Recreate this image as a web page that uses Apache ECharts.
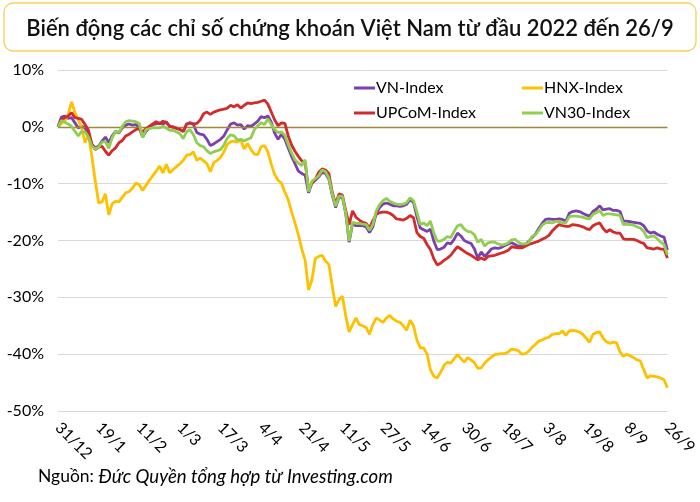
<!DOCTYPE html>
<html>
<head>
<meta charset="utf-8">
<script src="https://cdn.jsdelivr.net/npm/echarts@6/dist/echarts.min.js"></script>
<style>
html,body{margin:0;padding:0;background:#fff;}
#chart{width:700px;height:502px;}
</style>
</head>
<body>
<div id="chart"></div>
<script>
// % thay đổi so với 31/12/2021, theo từng phiên giao dịch
var vnIndex = [
	0, 1.7, 1.9, 1.5, 1.6, 0.7, -0.2, 0.1, -0.2, -1.3,
	-3.1, -3.7, -3.4, -2.5, -1.8, -2.8, -1.6, -0.8, -1.1, -0.2,
	0.3, 0.5, 0.3, 0.4, -0.2, -1.8, -0.8, -0.2, 0.4, 0.5,
	0.7, 0.5, 0.9, 0.1, -0.1, -0.2, -0.5, -0.8, 0.5, 0.7,
	0.4, -1.0, -1.3, -1.4, -2.2, -3.3, -3.0, -2.6, -2.2, -1.6,
	-0.5, 0.5, 0.7, 0.3, 0.4, -0.4, 0.2, 0.1, 0.5, 1.0,
	1.8, 1.6, 1.9, 0.8, -1.1, -2.2, -1.3, -2.2, -3.7, -5.2,
	-6.5, -7.8, -8.2, -8.5, -11.6, -9.9, -9.4, -8.8, -8.0, -8.2,
	-9.2, -12.0, -14.2, -12.4, -12.4, -15.3, -20.3, -17.0, -17.4, -17.4,
	-17.4, -17.6, -18.6, -17.6, -15.2, -14.2, -13.6, -13.4, -13.6, -13.9,
	-13.9, -14.0, -13.9, -13.6, -12.8, -13.3, -15.8, -17.8, -18.1, -18.4,
	-18.0, -20.1, -21.6, -21.5, -21.2, -20.4, -20.6, -19.8, -18.7, -19.2,
	-20.0, -20.3, -20.5, -21.5, -23.1, -22.0, -22.8, -22.2, -21.5, -21.3,
	-21.4, -21.2, -20.9, -20.6, -20.4, -20.7, -21.0, -20.9, -20.7, -20.2,
	-19.5, -18.9, -17.9, -17.0, -16.3, -16.2, -16.3, -16.3, -16.2, -16.3,
	-16.6, -15.2, -14.9, -14.8, -14.9, -15.2, -15.5, -15.7, -14.9, -14.5,
	-13.9, -14.6, -14.5, -14.4, -14.7, -14.7, -14.9, -16.6, -16.6, -16.7,
	-16.8, -16.9, -17.0, -17.4, -18.3, -18.7, -18.5, -18.9, -19.2, -19.4,
	-21.7
];
var hnxIndex = [
	0, 0.6, 1.0, 2.2, 4.4, 2.5, 1.2, -0.2, -2.8, -1.3,
	-5.2, -9.5, -13.4, -13.2, -11.8, -15.5, -13.5, -13.1, -13.2, -12.4,
	-11.6, -11.4, -10.8, -9.9, -10.2, -11.2, -10.3, -9.4, -8.6, -7.8,
	-6.9, -8.1, -6.6, -8.1, -7.5, -7.0, -6.5, -5.9, -5.0, -4.9,
	-4.4, -5.9, -5.5, -6.0, -6.5, -7.9, -6.3, -5.9, -5.4, -4.4,
	-3.1, -2.6, -2.5, -2.7, -2.3, -3.9, -2.9, -4.0, -4.8, -4.9,
	-3.5, -3.3, -4.4, -6.6, -8.4, -9.4, -9.9, -11.5, -12.8, -15.0,
	-16.9, -19.0, -21.5, -23.5, -28.7, -26.9, -23.2, -22.8, -22.6, -23.6,
	-24.2, -28.0, -31.6, -30.4, -29.8, -33.3, -36.1, -34.8, -33.6, -34.8,
	-35.0, -35.3, -36.5, -34.8, -33.6, -34.0, -34.4, -33.6, -33.2, -33.8,
	-34.2, -34.4, -35.0, -35.8, -34.0, -35.0, -37.5, -38.9, -38.9, -40.0,
	-42.7, -43.9, -44.2, -43.2, -42.0, -41.4, -41.6, -40.8, -40.1, -40.8,
	-41.4, -40.6, -41.0, -41.5, -42.5, -42.4, -41.6, -41.0, -40.5, -40.1,
	-40.0, -39.9, -39.9, -39.6, -39.1, -39.2, -39.4, -40.0, -39.9, -39.5,
	-38.8, -38.3, -37.7, -37.5, -37.2, -37.0, -36.5, -36.4, -36.4, -35.9,
	-36.7, -35.9, -35.8, -35.9, -36.1, -36.5, -37.2, -37.9, -36.5, -36.2,
	-36.1, -37.2, -37.8, -38.1, -37.9, -38.0, -39.6, -40.4, -40.0, -40.3,
	-40.6, -41.0, -41.2, -42.7, -44.2, -43.8, -43.9, -44.0, -44.2, -44.5,
	-45.9
];
var upcomIndex = [
	0, 1.3, 1.6, 1.9, 2.5, 1.6, 1.5, 1.3, 0.4, -0.6,
	-3.0, -4.0, -3.6, -3.4, -4.3, -5.0, -4.2, -3.7, -2.8, -2.4,
	-1.6, -1.3, -0.9, -0.5, -0.3, -0.9, -0.3, 0.1, 0.5, 0.9,
	0.5, 1.0, 0.7, 0.1, 0.0, -0.3, -0.4, -0.8, 0.5, 0.7,
	0.5, 0.6, 1.2, 2.3, 2.6, 2.2, 2.6, 2.8, 3.0, 3.1,
	3.3, 3.8, 3.5, 3.9, 3.3, 3.8, 4.2, 4.1, 4.2, 4.3,
	4.5, 4.7, 4.0, 2.6, 1.2, 0.2, 0.7, 0.6, -1.6, -3.2,
	-4.3, -5.2, -6.0, -6.3, -11.0, -9.9, -9.2, -8.0, -7.4, -7.6,
	-8.2, -11.5, -13.6, -11.8, -12.0, -14.8, -17.2, -14.8, -15.9, -16.4,
	-16.8, -17.0, -17.8, -16.5, -15.4, -15.1, -15.0, -15.0, -15.2, -15.6,
	-16.2, -16.3, -16.4, -16.1, -15.6, -16.0, -18.6, -19.3, -19.6, -20.7,
	-21.6, -23.2, -24.3, -24.0, -23.5, -23.1, -22.6, -21.8, -21.1, -21.5,
	-21.9, -22.3, -22.6, -23.0, -23.4, -23.1, -23.4, -22.8, -22.7, -22.6,
	-22.4, -22.2, -22.0, -21.7, -21.1, -21.2, -21.3, -21.3, -21.0, -20.7,
	-20.5, -20.3, -20.1, -19.8, -19.5, -19.1, -18.3, -17.7, -17.2, -17.4,
	-17.5, -17.5, -17.2, -17.3, -17.4, -17.6, -17.9, -18.1, -17.4, -17.1,
	-16.9, -17.9, -18.5, -18.1, -18.5, -18.7, -18.7, -19.7, -19.8, -19.8,
	-19.8, -20.0, -20.3, -20.5, -21.3, -21.4, -21.5, -21.3, -21.5, -21.5,
	-23.1
];
var vn30Index = [
	0, 1.1, 0.8, 0.5, 0.1, -0.8, -1.6, -0.8, -0.9, -1.8,
	-3.4, -3.9, -3.6, -2.7, -2.6, -3.8, -1.9, -0.8, -1.0, 0.1,
	0.9, 1.1, 1.0, 0.9, 0.6, -1.9, -0.5, -0.3, -0.2, -0.2,
	-0.2, 0.1, -0.2, -0.6, -0.6, -0.9, -1.2, -2.1, -0.8, -0.5,
	-1.4, -2.8, -3.3, -3.5, -4.2, -4.7, -4.4, -4.2, -4.0, -3.2,
	-2.0, -1.4, -1.6, -2.3, -2.2, -2.5, -2.2, -1.9, -0.5, 0.2,
	0.7, 0.4, 1.4, 0.4, -0.5, -1.0, -0.9, -1.5, -3.1, -4.6,
	-5.8, -6.4, -6.8, -5.8, -11.4, -9.6, -9.1, -8.6, -7.6, -7.9,
	-9.0, -11.8, -14.0, -12.2, -12.2, -15.2, -20.1, -16.8, -17.0, -17.0,
	-17.1, -17.2, -18.2, -17.2, -14.8, -13.7, -13.0, -12.6, -13.1, -13.4,
	-13.6, -13.7, -13.6, -13.3, -12.5, -13.0, -15.0, -17.2, -16.9, -17.4,
	-16.6, -18.7, -20.1, -20.1, -19.8, -19.3, -19.5, -18.4, -17.4, -17.2,
	-18.0, -18.4, -18.5, -19.0, -20.3, -19.8, -21.0, -20.4, -20.3, -20.3,
	-20.6, -20.8, -20.7, -20.4, -19.9, -19.8, -20.3, -20.6, -20.6, -20.4,
	-19.3, -19.0, -18.2, -17.3, -16.9, -16.8, -16.9, -16.6, -16.7, -16.9,
	-16.9, -15.8, -15.7, -15.7, -15.8, -15.9, -16.1, -16.2, -15.4, -15.1,
	-14.7, -15.6, -15.3, -15.3, -15.4, -15.5, -15.6, -17.2, -17.1, -17.2,
	-17.3, -17.6, -17.8, -18.4, -19.5, -19.3, -19.2, -19.7, -20.3, -20.7,
	-22.5
];
var seriesNames = ['VN-Index', 'HNX-Index', 'UPCoM-Index', 'VN30-Index'];
var seriesColors = ['#7B3FAF', '#FFC000', '#D32B2B', '#8FCF4E'];
// ngày nghỉ lễ (không giao dịch)
var holidays = ['2022-01-03', '2022-01-31', '2022-02-01', '2022-02-02', '2022-02-03',
	'2022-02-04', '2022-04-11', '2022-05-02', '2022-05-03', '2022-09-01', '2022-09-02'];
var yTicks = [-50, -40, -30, -20, -10, 0, 10];

// danh sách phiên giao dịch từ 31/12/2021
function tradingDays(count){
	var arr = [];
	var t = Date.UTC(2021, 11, 31);
	while(arr.length < count){
		var d = new Date(t);
		var iso = d.toISOString().slice(0, 10);
		var wd = d.getUTCDay();
		if(wd != 0 && wd != 6 && holidays.indexOf(iso) < 0){
			arr.push(d.getUTCDate() + '/' + (d.getUTCMonth() + 1));
		}
		t += 86400000;
	}
	return arr;
}
var days = tradingDays(vnIndex.length);

var chart = echarts.init(document.getElementById('chart'));
var font = 'Lato, "Noto Sans", sans-serif';
var allData = [vnIndex, hnxIndex, upcomIndex, vn30Index];

var seriesArr = [];
for(var i=0;i<allData.length;i++){
	var tmp = {
		name: seriesNames[i],
		type: 'line',
		data: allData[i],
		showSymbol: false,
		symbol: 'none',
		lineStyle: {width: 2.8, color: seriesColors[i]},
		itemStyle: {color: seriesColors[i]},
		z: 3 + i
	};
	seriesArr.push(tmp);
}
// đường 0%
seriesArr[0].markLine = {
	silent: true,
	symbol: 'none',
	label: {show: false},
	lineStyle: {color: '#A08838', width: 1.3, type: 'solid'},
	data: [{yAxis: 0}]
};

var legendBase = {
	orient: 'vertical',
	icon: 'rect',
	itemWidth: 21,
	itemHeight: 3,
	itemGap: 9,
	top: 75,
	textStyle: {fontFamily: font, fontSize: 16, color: '#000', padding: [0, 0, 0, -4]}
};

option = {
	animation: false,
	backgroundColor: '#fff',
	title: {
		text: 'Biến động các chỉ số chứng khoán Việt Nam từ đầu 2022 đến 26/9',
		left: 'center',
		top: 13,
		textStyle: {fontFamily: font, fontSize: 22, fontWeight: 600, color: '#111'}
	},
	graphic: [
		{
			type: 'rect',
			z: 0,
			shape: {x: 4, y: 3, width: 692, height: 48, r: 9},
			style: {fill: '#fff', stroke: '#F7CF5A', lineWidth: 1.3}
		},
		{
			type: 'text',
			left: 38,
			top: 467,
			style: {
				text: '{a|Nguồn: }{b|Đức Quyền tổng hợp từ Investing.com}',
				rich: {
					a: {fontFamily: font, fontSize: 17.5, fill: '#000'},
					b: {fontFamily: font, fontSize: 18.6, fontStyle: 'italic', fill: '#000'}
				}
			}
		}
	],
	legend: [
		Object.assign({}, legendBase, {left: 349, data: ['VN-Index', 'UPCoM-Index']}),
		Object.assign({}, legendBase, {left: 517, data: ['HNX-Index', 'VN30-Index']})
	],
	grid: {left: 58, right: 32, top: 70, bottom: 91},
	xAxis: {
		type: 'category',
		boundaryGap: false,
		data: days,
		axisLine: {show: false, onZero: false},
		axisTick: {show: false},
		axisLabel: {
			interval: 11,
			rotate: -45,
			margin: 14,
			fontFamily: font,
			fontSize: 16,
			color: '#000'
		},
		splitLine: {show: false}
	},
	yAxis: {
		type: 'value',
		min: yTicks[0],
		max: yTicks[yTicks.length - 1],
		interval: 10,
		axisLine: {show: false},
		axisTick: {show: false},
		axisLabel: {
			formatter: '{value}%',
			fontFamily: font,
			fontSize: 16,
			color: '#000',
			margin: 14
		},
		splitLine: {lineStyle: {color: '#D9D9D9', width: 1}}
	},
	series: seriesArr
};

chart.setOption(option);
</script>
</body>
</html>
